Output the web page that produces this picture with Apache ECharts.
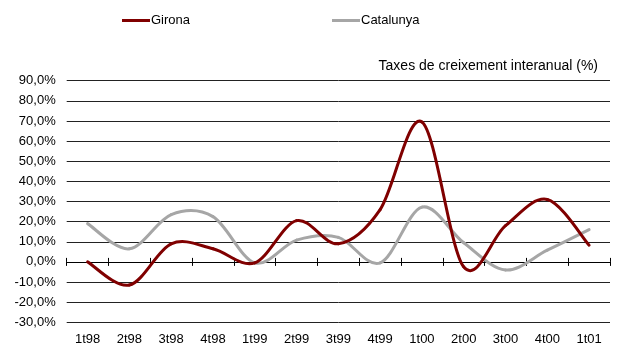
<!DOCTYPE html>
<html>
<head>
<meta charset="utf-8">
<script src="https://cdn.jsdelivr.net/npm/echarts@6/dist/echarts.min.js"></script>
<style>
  html, body { margin: 0; padding: 0; background: #fff; }
  #chart { width: 621px; height: 354px; }
</style>
</head>
<body>
<div id="chart"></div>
<script>
// Quarterly periods
const categories = ['1t98','2t98','3t98','4t98','1t99','2t99','3t99','4t99','1t00','2t00','3t00','4t00','1t01'];
// Year-on-year growth rates (%)
const girona    = [0, -11.5, 9, 6.5, -0.5, 20.5, 9, 26, 69.5, -2.5, 18, 31, 8.3];
const catalunya = [19, 6.5, 23.5, 22.5, -0.5, 10.8, 12.2, -0.5, 27.2, 9.5, -4, 5.8, 16];
const seriesNames = ['Girona', 'Catalunya'];
const seriesColors = ['#800000', '#a6a6a6'];
const axisTitle = 'Taxes de creixement interanual (%)';

const FONT = 'Liberation Sans';
const chart = echarts.init(document.getElementById('chart'), null, { renderer: 'canvas' });

const fmt = v => v.toFixed(1).replace('.', ',') + '%';
const Y_MIN = -30, Y_MAX = 90, Y_STEP = 10;

// Smoothed line drawn as Catmull-Rom cubic segments; each data item draws
// the segment from its own point to the next, using the axis scales.
function smoothSeries(name, values, color, z) {
  const n = values.length;
  return {
    name, type: 'custom', z,
    data: values.map((v, i) => [i, v]),
    encode: { x: 0, y: 1 },
    itemStyle: { color },
    renderItem(params, api) {
      const i = params.dataIndex;
      if (i >= n - 1) return { type: 'group', children: [] };
      const pt = k => {
        const kk = Math.max(0, Math.min(n - 1, k));
        return api.coord([kk, values[kk]]);
      };
      const p0 = pt(i - 1), p1 = pt(i), p2 = pt(i + 1), p3 = pt(i + 2);
      const t = 1 / 6;
      return {
        type: 'bezierCurve',
        shape: {
          x1: p1[0], y1: p1[1], x2: p2[0], y2: p2[1],
          cpx1: p1[0] + (p2[0] - p0[0]) * t, cpy1: p1[1] + (p2[1] - p0[1]) * t,
          cpx2: p2[0] - (p3[0] - p1[0]) * t, cpy2: p2[1] - (p3[1] - p1[1]) * t
        },
        style: { stroke: color, lineWidth: 3, fill: null, lineCap: 'round' }
      };
    }
  };
}

chart.setOption({
  animation: false,
  backgroundColor: '#ffffff',
  textStyle: { fontFamily: FONT },
  title: {
    text: axisTitle,
    right: 18, top: 54,
    textStyle: { fontFamily: FONT, fontSize: 14, fontWeight: 'normal', color: '#000' }
  },
  legend: [
    {
      data: [seriesNames[0]], left: 117, top: 9,
      itemWidth: 28, itemHeight: 3, icon: 'rect',
      textStyle: { fontFamily: FONT, fontSize: 13, color: '#000', padding: [0, 0, 0, -4] }
    },
    {
      data: [seriesNames[1]], left: 327, top: 9,
      itemWidth: 28, itemHeight: 3, icon: 'rect',
      textStyle: { fontFamily: FONT, fontSize: 13, color: '#000', padding: [0, 0, 0, -4] }
    }
  ],
  grid: { left: 66.7, right: 11, top: 80.7, bottom: 31.7, containLabel: false },
  xAxis: [
    {
      // category labels along the bottom
      type: 'category', data: categories, position: 'bottom',
      axisLine: { show: false }, axisTick: { show: false },
      axisLabel: { fontFamily: FONT, fontSize: 13, color: '#000', margin: 11 }
    },
    {
      // zero line with downward ticks
      type: 'category', data: categories, position: 'bottom',
      axisLine: { onZero: true, onZeroAxisIndex: 0, lineStyle: { color: '#000', width: 1 } },
      axisTick: { show: true, length: 4, lineStyle: { color: '#000' } },
      axisLabel: { show: false }
    },
    {
      // upward ticks on the zero line
      type: 'category', data: categories, position: 'top',
      axisLine: { onZero: true, onZeroAxisIndex: 1, lineStyle: { color: '#000', width: 1 } },
      axisTick: { show: true, length: 4, lineStyle: { color: '#000' } },
      axisLabel: { show: false }
    }
  ],
  yAxis: [
    {
      type: 'value', min: Y_MIN, max: Y_MAX, interval: Y_STEP,
      axisLine: { show: false }, axisTick: { show: false },
      axisLabel: { formatter: fmt, fontFamily: FONT, fontSize: 13, color: '#000', margin: 11 },
      splitLine: { lineStyle: { color: '#222', width: 1 } }
    },
    {
      // silent twin scale used only to pin the upward ticks to zero
      type: 'value', min: Y_MIN, max: Y_MAX, interval: Y_STEP, position: 'left',
      axisLine: { show: false }, axisTick: { show: false },
      axisLabel: { show: false }, splitLine: { show: false }
    }
  ],
  series: [
    smoothSeries(seriesNames[0], girona, seriesColors[0], 3),
    smoothSeries(seriesNames[1], catalunya, seriesColors[1], 2)
  ]
});
</script>
</body>
</html>
